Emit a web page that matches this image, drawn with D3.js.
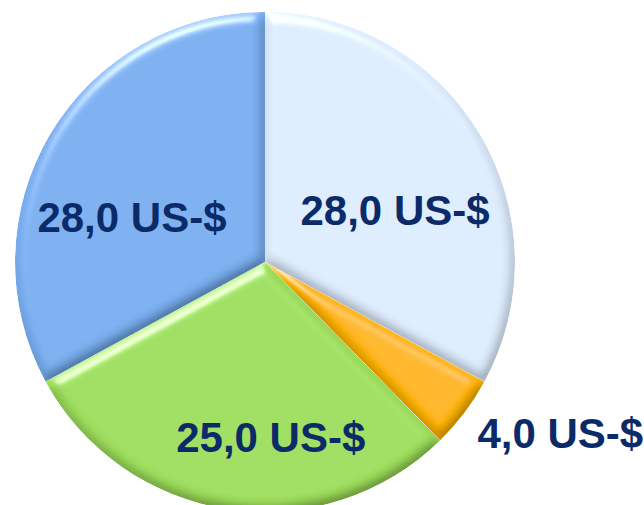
<!DOCTYPE html>
<html lang="de">
<head>
<meta charset="utf-8" />
<script src="https://d3js.org/d3.v7.min.js"></script>
<style>
    body { margin: 0; background: #fff; }
    .label { font-family: "Liberation Sans", Arial, sans-serif; font-weight: bold; fill: #0b2a68; }
</style>
</head>
<body>
<script>
    // values, clockwise from 12 o'clock
    var values = [28, 4, 25, 28];
    var labels = ["28,0 US-$", "4,0 US-$", "25,0 US-$", "28,0 US-$"];
    var colors = ["#dcebfc", "#ffb400", "#9cdc5a", "#78adee"];

    var width = 644, height = 505;
    var cx = 265, cy = 262, radius = 250;

    // where each label sits: radius factor on the slice's mid angle, plus a nudge
    var labelPos = [
        { r: 0.605, dx: 0, dy: 40 },
        { r: 1.3, dx: 36, dy: -10 },
        { r: 0.768, dx: 34, dy: 0 },
        { r: 0.619, dx: 0, dy: 49 }
    ];

    var svg = d3.select("body").append("svg")
        .attr("width", width)
        .attr("height", height);

    var defs = svg.append("defs");
    var f = defs.append("filter").attr("id", "bevel")
        .attr("x", "-10%").attr("y", "-10%").attr("width", "120%").attr("height", "120%");
    f.append("feGaussianBlur").attr("in", "SourceAlpha").attr("stdDeviation", 6).attr("result", "blur");
    var spec = f.append("feSpecularLighting").attr("in", "blur")
        .attr("surfaceScale", 5).attr("specularConstant", 1)
        .attr("specularExponent", 40).attr("lighting-color", "#ffffff").attr("result", "spec");
    spec.append("feDistantLight").attr("azimuth", 250).attr("elevation", 45);
    f.append("feComposite").attr("in", "spec").attr("in2", "SourceAlpha").attr("operator", "in").attr("result", "specOut");
    var dif = f.append("feDiffuseLighting").attr("in", "blur")
        .attr("surfaceScale", 5).attr("diffuseConstant", 1.155)
        .attr("lighting-color", "#ffffff").attr("result", "dif");
    dif.append("feDistantLight").attr("azimuth", 250).attr("elevation", 60);
    f.append("feComposite").attr("in", "SourceGraphic").attr("in2", "dif")
        .attr("operator", "arithmetic").attr("k1", 1).attr("k2", 0).attr("k3", 0).attr("k4", 0).attr("result", "shaded");
    f.append("feComposite").attr("in", "shaded").attr("in2", "specOut")
        .attr("operator", "arithmetic").attr("k1", 0).attr("k2", 1).attr("k3", 0.6).attr("k4", 0).attr("result", "lit");
    f.append("feComposite").attr("in", "lit").attr("in2", "SourceAlpha").attr("operator", "in");

    var pie = d3.pie().sort(null).value(function (d) { return d; });
    var arc = d3.arc().innerRadius(0).outerRadius(radius);

    var g = svg.append("g").attr("transform", "translate(" + cx + "," + cy + ")");

    var arcs = pie(values);

    g.selectAll("path.slice")
        .data(arcs)
        .enter().append("path")
        .attr("class", "slice")
        .attr("d", arc)
        .attr("fill", function (d, i) { return colors[i]; })
        .attr("filter", "url(#bevel)");

    g.selectAll("text.label")
        .data(arcs)
        .enter().append("text")
        .attr("class", "label")
        .attr("text-anchor", "middle")
        .attr("font-size", 42)
        .attr("x", function (d, i) {
            var a = (d.startAngle + d.endAngle) / 2;
            return Math.sin(a) * radius * labelPos[i].r + labelPos[i].dx;
        })
        .attr("y", function (d, i) {
            var a = (d.startAngle + d.endAngle) / 2;
            return -Math.cos(a) * radius * labelPos[i].r + labelPos[i].dy;
        })
        .text(function (d, i) { return labels[i]; });
</script>
</body>
</html>
